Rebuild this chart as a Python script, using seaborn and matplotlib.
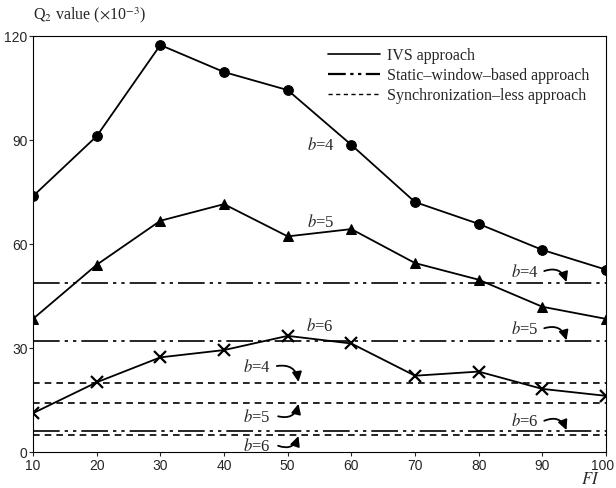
import matplotlib
matplotlib.use("Agg")
import matplotlib.pyplot as plt
import matplotlib.transforms as mtrans
import seaborn as sns
import pandas as pd
from matplotlib.lines import Line2D

# ---- data ----
fi = [10, 20, 30, 40, 50, 60, 70, 80, 90, 100]
ivs_b4 = [73.8, 91.1, 117.4, 109.6, 104.4, 88.6, 72.1, 65.8, 58.3, 52.6]
ivs_b5 = [38.4, 54.0, 66.7, 71.5, 62.2, 64.3, 54.5, 49.7, 41.9, 38.4]
ivs_b6 = [11.2, 20.1, 27.3, 29.4, 33.5, 31.3, 22.0, 23.2, 18.2, 16.2]
static_levels = [48.7, 31.9, 6.0]      # b=4, b=5, b=6
syncless_levels = [19.9, 14.2, 4.9]    # b=4, b=5, b=6
block_labels = ["b=4", "b=5", "b=6"]
legend_labels = ["IVS approach", "Static\u2013window\u2013based approach",
                 "Synchronization\u2013less approach"]
x_ticks = [10, 20, 30, 40, 50, 60, 70, 80, 90, 100]
y_ticks = [0, 30, 60, 90, 120]

sns.set_style("ticks")
plt.rcParams['font.family'] = ['Liberation Serif', 'DejaVu Serif']
plt.rcParams['mathtext.fontset'] = 'stix'

fig = plt.figure(figsize=(6.16, 4.89), dpi=100)
ax = fig.add_axes([33/616, 1-453/489, (606-33)/616, (453-37)/489])

df = pd.DataFrame({"FI": fi * 3,
                   "Q2": ivs_b4 + ivs_b5 + ivs_b6,
                   "b": ["4"] * 10 + ["5"] * 10 + ["6"] * 10})
sns.lineplot(data=df, x="FI", y="Q2", style="b", markers={"4": "o", "5": "^", "6": "X"},
             dashes=False, color="black", linewidth=1.3, ax=ax, legend=False,
             markersize=7)
# style x markers as thin crosses
for line in ax.get_lines():
    if line.get_marker() == "X":
        line.set_marker("x")
        line.set_markersize(8)
        line.set_markeredgewidth(1.6)
    line.set_markeredgecolor("black")
    line.set_markerfacecolor("black")

static_ls = (0, (16, 3, 2, 3, 2, 3))
sync_ls = (0, (4, 3))
for v in static_levels:
    ax.axhline(v, color="black", lw=1.2, ls=static_ls)
for v in syncless_levels:
    ax.axhline(v, color="black", lw=1.2, ls=sync_ls)

ax.set_xlim(10, 100)
ax.set_ylim(0, 120)
ax.set_xticks(x_ticks)
ax.set_yticks(y_ticks)
for lab in ax.get_xticklabels() + ax.get_yticklabels():
    lab.set_family(['Liberation Sans', 'DejaVu Sans'])
    lab.set_fontsize(10)
ax.tick_params(length=3, width=0.8, pad=1)
last = ax.get_xticklabels()[-1]
last.set_transform(last.get_transform() + mtrans.ScaledTranslation(-3/100, 0, fig.dpi_scale_trans))
ax.set_xlabel("")
ax.set_ylabel("")
for s in ax.spines.values():
    s.set_linewidth(0.8)
    s.set_color("black")

def blab(s):
    return "$b$" + s[1:]

fs = 12
# curve labels
ax.text(55.2, 88.8, blab(block_labels[0]), fontsize=fs, ha="center", va="center")
ax.text(55.2, 66.4, blab(block_labels[1]), fontsize=fs, ha="center", va="center")
ax.text(55.1, 36.4, blab(block_labels[2]), fontsize=fs, ha="center", va="center")

arrowkw = dict(arrowstyle="-|>,head_length=0.45,head_width=0.22", color="black",
               lw=1.3, mutation_scale=13, shrinkA=0, shrinkB=0)
# right labels (static)
right_text_y = [52.2, 35.7, 9.0]
for lab, lev, ty in zip(block_labels, static_levels, right_text_y):
    ax.text(87.3, ty, blab(lab), fontsize=fs, ha="center", va="center")
    ax.annotate("", xy=(93.8, lev + 0.3), xytext=(90.3, ty),
                arrowprops=dict(connectionstyle="arc3,rad=-0.5", **arrowkw))
# left labels (sync-less)
left_text_y = [24.8, 10.3, 1.8]
for lab, lev, ty in zip(block_labels, syncless_levels, left_text_y):
    ax.text(45.2, ty, blab(lab), fontsize=fs, ha="center", va="center")
    if ty > lev:
        ax.annotate("", xy=(51.7, lev + 0.3), xytext=(48.3, ty),
                    arrowprops=dict(connectionstyle="arc3,rad=-0.5", **arrowkw))
    else:
        ax.annotate("", xy=(51.7, lev - 0.3), xytext=(48.5, ty),
                    arrowprops=dict(connectionstyle="arc3,rad=0.5", **arrowkw))

handles = [Line2D([], [], color="black", lw=1.2),
           Line2D([], [], color="black", lw=1.6, ls=(0, (8, 2, 1.5, 2, 1.5, 2))),
           Line2D([], [], color="black", lw=1.0, ls=(0, (3, 2.5)))]
ax.legend(handles, legend_labels, loc="upper right", frameon=False, fontsize=11.5,
          handlelength=3.3, handletextpad=0.4, labelspacing=0.25,
          bbox_to_anchor=(0.99, 1.0), borderaxespad=0.3)

fig.text(33/616, 1-15/489, "Q$_2$ value ($\\times$10$^{-3}$)", fontsize=11.5,
         ha="left", va="center")
fig.text(590/616, 1-480/489, "$FI$", fontsize=12, ha="center", va="center")

fig.savefig("out.png", dpi=100)
